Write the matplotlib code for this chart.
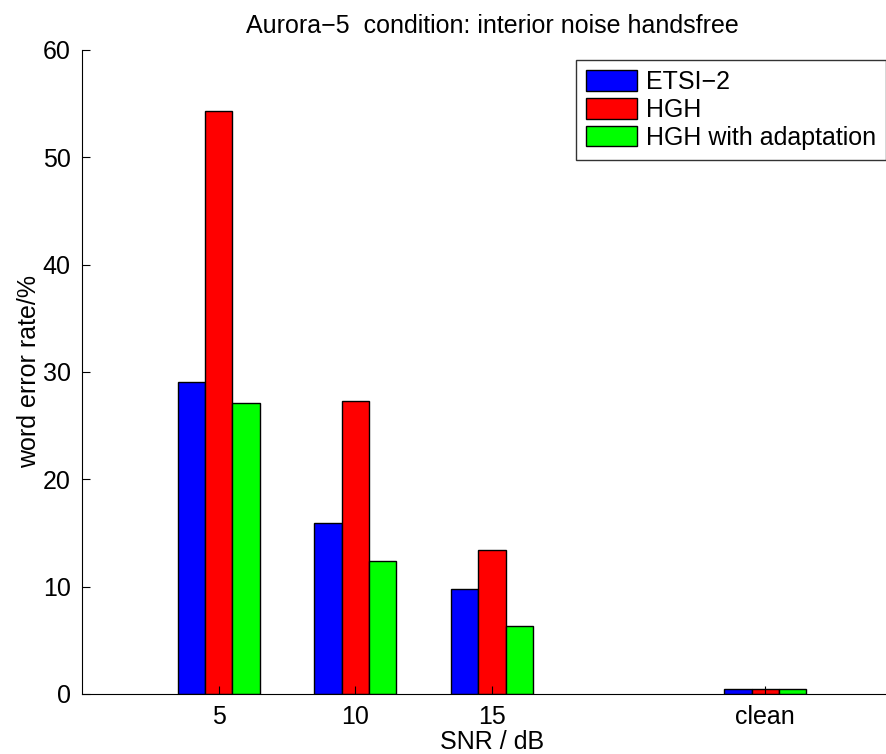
import numpy as np
import matplotlib.pyplot as plt

plt.rcParams['font.family'] = ['Liberation Sans', 'DejaVu Sans']

# du lieu doc tu hinh
snr_pos = [5, 10, 15, 25]
snr_labels = ['5', '10', '15', 'clean']
etsi2 = [29.1, 15.9, 9.8, 0.5]
hgh = [54.3, 27.3, 13.4, 0.5]
hgh_adapt = [27.1, 12.4, 6.3, 0.5]

series = [('ETSI\u22122', etsi2, '#0000ff'),
          ('HGH', hgh, '#ff0000'),
          ('HGH with adaptation', hgh_adapt, '#00ff00')]

fig = plt.figure(figsize=(8.87, 7.54), dpi=100)
ax = fig.add_axes([0.0924, 0.0796, 0.9245, 0.8541])

x = np.array(snr_pos, dtype=float)
w = 1.0
for i, (name, vals, col) in enumerate(series):
    ax.bar(x + (i - 1) * w, vals, width=w, color=col, edgecolor='black',
           linewidth=1.0, label=name)

ax.set_xlim(0, 30)
ax.set_ylim(0, 60)
ax.set_xticks(snr_pos)
ax.set_xticklabels(snr_labels)
ax.set_yticks(np.arange(0, 61, 10))
ax.tick_params(direction='in', length=6, labelsize=18, pad=8)
ax.spines['top'].set_visible(False)
ax.spines['right'].set_visible(False)

ax.set_title('Aurora\u22125  condition: interior noise handsfree', fontsize=18, pad=12)
ax.set_xlabel('SNR / dB', fontsize=18, labelpad=0.5)
ax.set_ylabel('word error rate/%', fontsize=18, labelpad=1)

leg = fig.legend(loc='upper right', bbox_to_anchor=(886 / 887, 1 - 60 / 754),
                 fontsize=18, frameon=True, fancybox=False, edgecolor='black',
                 handlelength=2.05, handleheight=0.9, handletextpad=0.35,
                 labelspacing=0.15, borderpad=0.4, borderaxespad=0)
leg.get_frame().set_linewidth(1.0)

fig.savefig('out.png', dpi=100)
